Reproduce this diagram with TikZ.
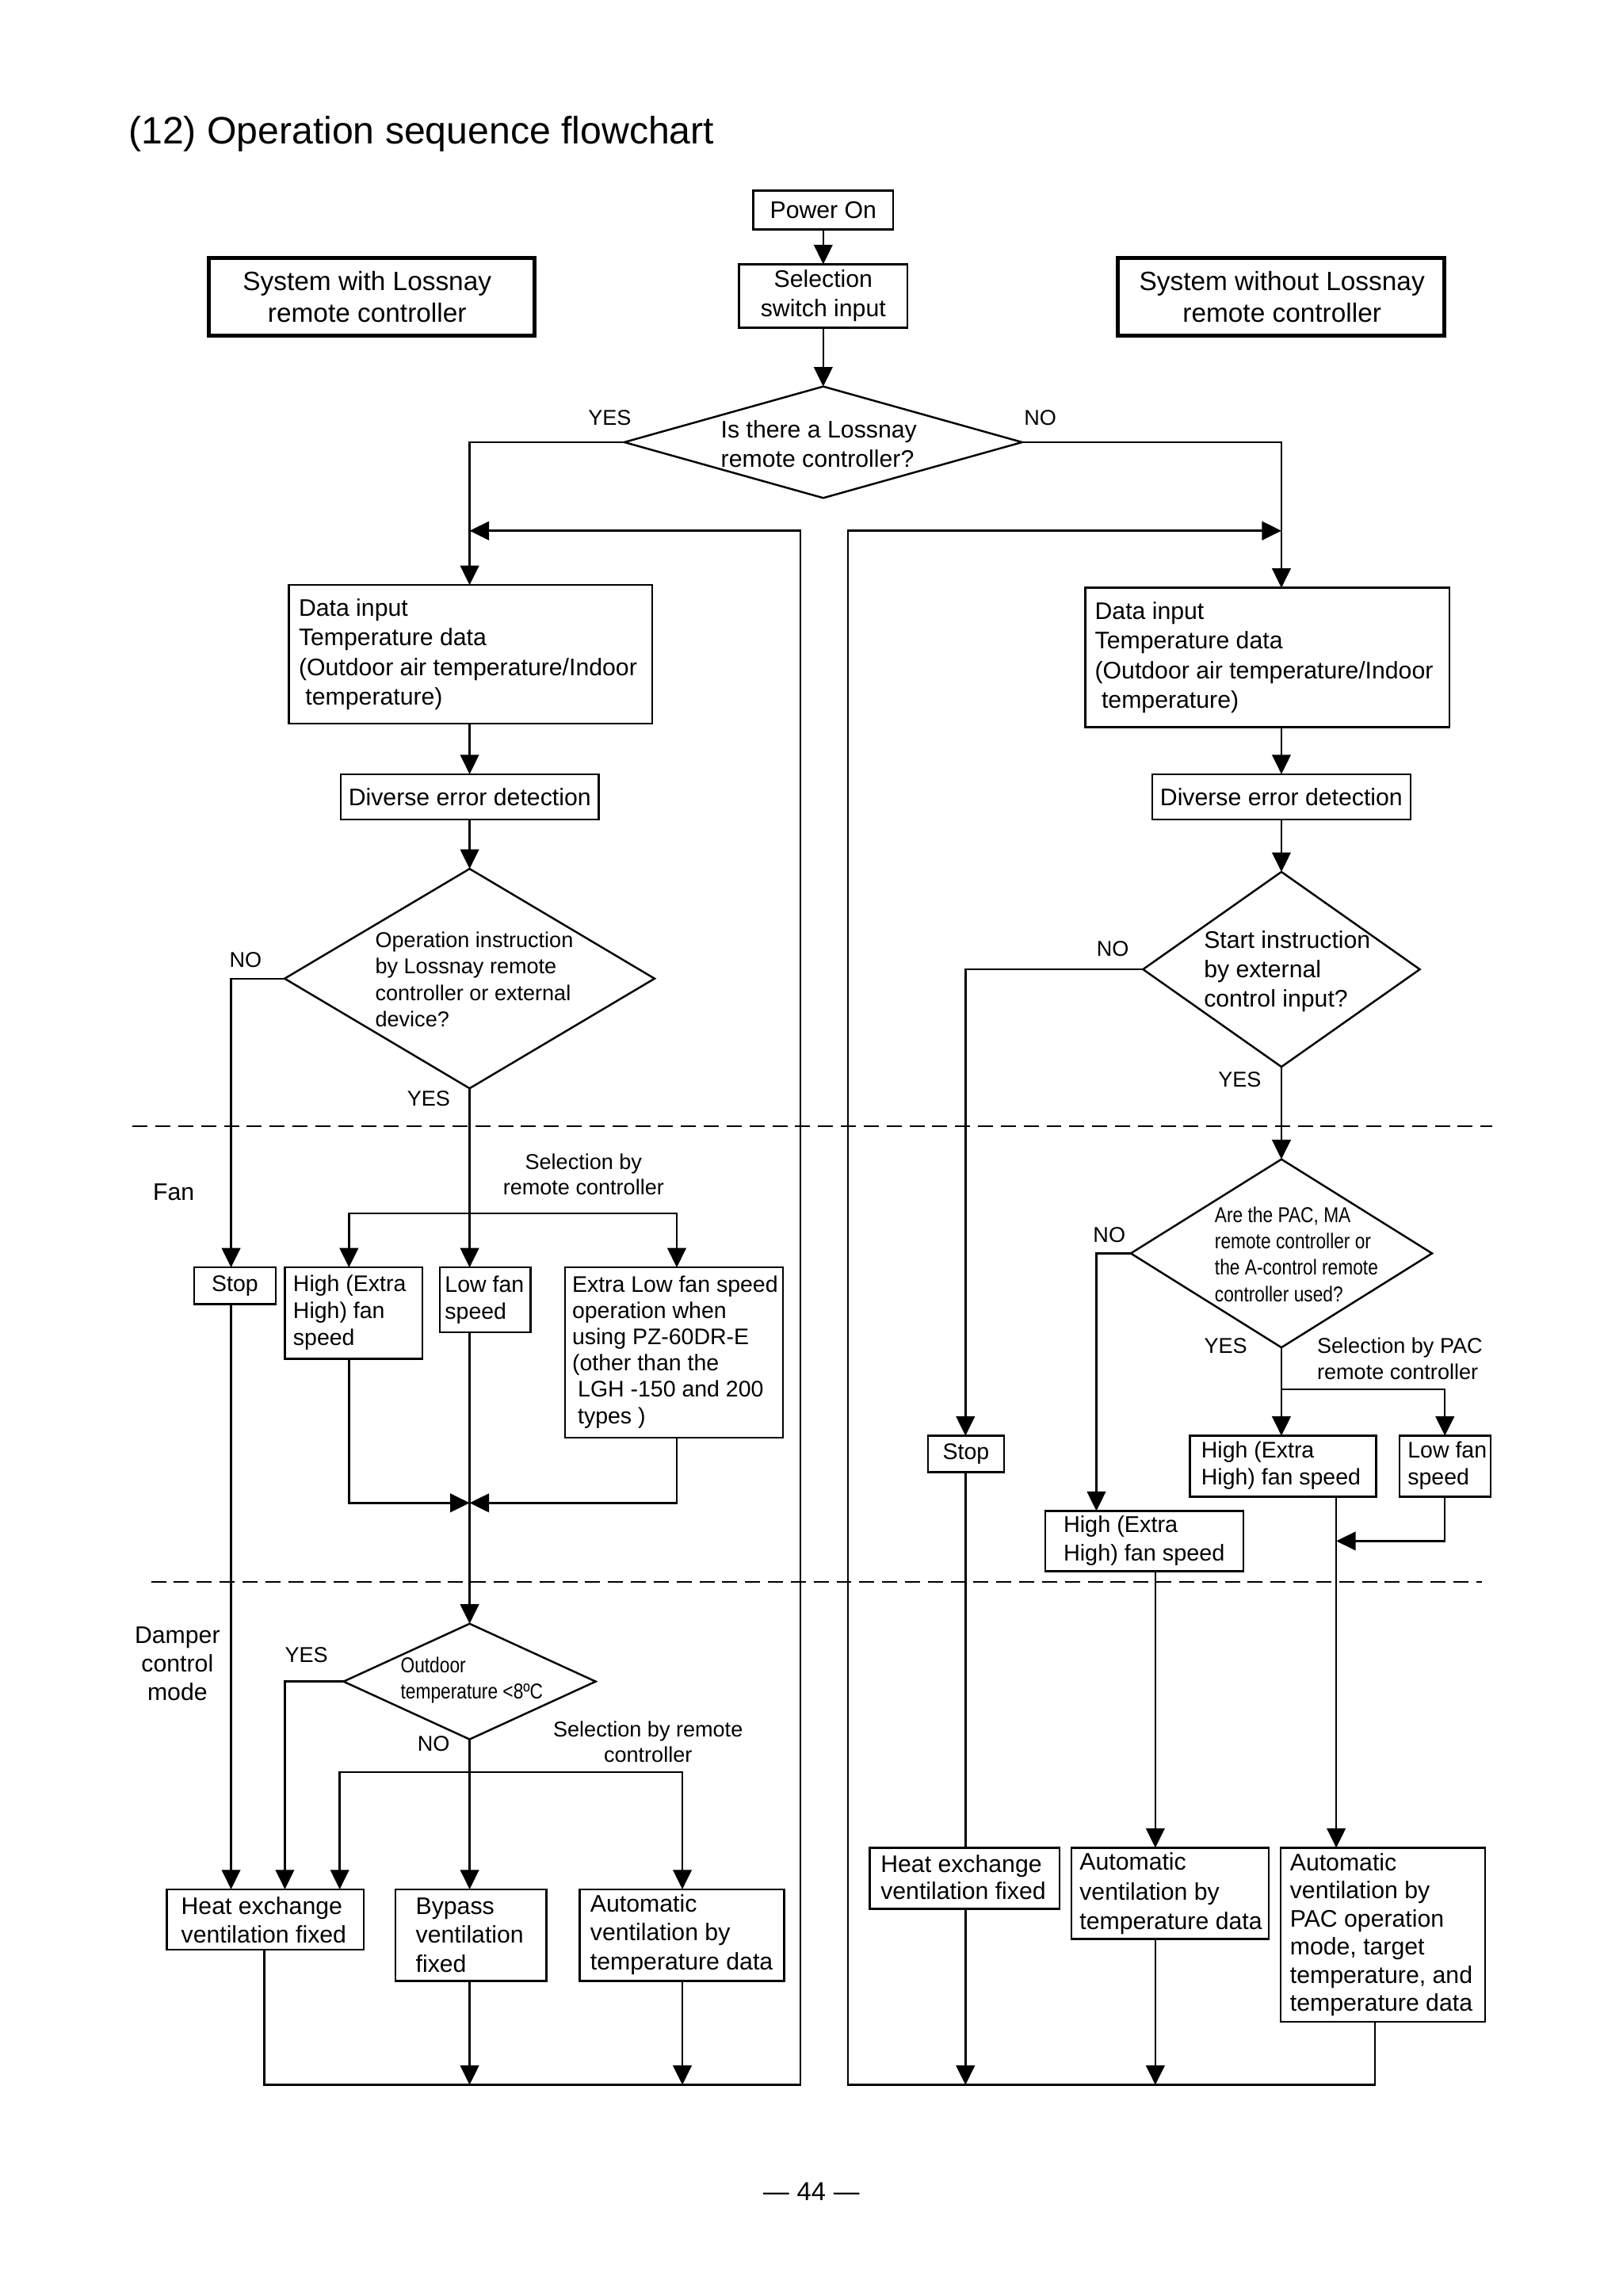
\documentclass[tikz,border=0pt]{standalone}
\usepackage{fontspec}
\setmainfont{Liberation Sans}
\newfontfamily\narrowfont[FakeStretch=0.84]{Liberation Sans}
\usetikzlibrary{arrows.meta,shapes.geometric,fit,calc}
\begin{document}
\begin{tikzpicture}[x=0.0185cm,y=-0.0185cm,
  ln/.style={line width=0.7pt},
  arr/.style={line width=0.7pt,-{Triangle[length=0.245cm,width=0.235cm]}},
  bx/.style={draw,line width=0.7pt,inner sep=0pt,outer sep=0pt},
  tbx/.style={draw,line width=1.4pt,inner sep=0pt,outer sep=0pt},
  dia/.style={draw,diamond,line width=0.7pt,inner sep=0pt,outer sep=0pt},
  tA/.style={inner sep=0pt,align=left,font=\fontsize{8.6}{10.4}\selectfont},
  tD/.style={inner sep=0pt,align=left,font=\fontsize{8.6}{10.6}\selectfont},
  tF/.style={inner sep=0pt,align=left,font=\fontsize{8.1}{9.6}\selectfont},
  lab/.style={inner sep=0pt,align=center,font=\fontsize{7.7}{9.3}\selectfont},
  tN/.style={inner sep=0pt,align=left,font=\narrowfont\fontsize{7.7}{9.45}\selectfont},
  tS/.style={inner sep=0pt,align=center,font=\fontsize{9.5}{11.4}\selectfont},
  dsh/.style={line width=0.7pt,dash pattern=on 5.4pt off 2.8pt}]
\useasboundingbox (0,0) rectangle (1106.5,1565.9);

% title
\node[inner sep=0pt,anchor=base west,font=\fontsize{13.7}{16}\selectfont] (title) at (87.3,98.2) {(12) Operation sequence flowchart};

% top
\node[bx,fit={(513.8,130.1)(609.2,156.4)}] (pwr) {};
\node[tA] (pwrT) at (pwr.center) {Power On};
\node[bx,fit={(504,180.2)(619,223.4)}] (sel) {};
\node[tA,align=center] (selT) at (sel.center) {Selection\\switch input};
\node[tbx,fit={(142.2,175.7)(364.8,228.8)}] (sysL) {};
\node[tS] (sysLT) at (250.4,202.7) {System with Lossnay\\remote controller};
\node[tbx,fit={(762.5,175.7)(985,228.8)}] (sysR) {};
\node[tS] (sysRT) at (874.4,202.7) {System without Lossnay\\remote controller};

\node[dia,minimum width=5.017cm,minimum height=1.406cm] (d1) at (561.5,301.6) {};
\node[tD] (d1T) at (558.5,302.7) {Is there a Lossnay\\remote controller?};

% left column
\node[bx,fit={(196.9,399)(444.7,493.6)}] (dinL) {};
\node[tD,anchor=west] (dinLT) at (203.4,446.3) {Data input\\Temperature data\\(Outdoor air temperature/Indoor\\\hspace{0.28em}temperature)};
\node[bx,fit={(232.5,528)(408.3,559)}] (dedL) {};
\node[tA] (dedLT) at (dedL.center) {Diverse error detection};
\node[dia,minimum width=4.666cm,minimum height=2.769cm] (d2) at (320.3,667.4) {};
\node[inner sep=0pt,align=left,font=\fontsize{7.7}{9.45}\selectfont,anchor=west] (d2T) at (255.6,668) {Operation instruction\\by Lossnay remote\\controller or external\\device?};

% right column
\node[bx,fit={(740.3,400.9)(988.6,496)}] (dinR) {};
\node[tD,anchor=west] (dinRT) at (746.4,448.4) {Data input\\Temperature data\\(Outdoor air temperature/Indoor\\\hspace{0.28em}temperature)};
\node[bx,fit={(785.9,528)(962,559)}] (dedR) {};
\node[tA] (dedRT) at (dedR.center) {Diverse error detection};
\node[dia,minimum width=3.491cm,minimum height=2.459cm] (d3) at (874,661.1) {};
\node[tD,anchor=west] (d3T) at (820.8,662.4) {Start instruction\\by external\\control input?};
\node[dia,minimum width=3.800cm,minimum height=2.374cm] (d4) at (874,854.8) {};
\node[tN,anchor=west] (d4T) at (828.2,855.4) {Are the PAC, MA\\remote controller or\\the A-control remote\\controller used?};

% fan left
\node[bx,fit={(132.5,864.4)(188,889.4)}] (stopL) {};
\node[tF] (stopLT) at (stopL.center) {Stop};
\node[bx,fit={(194.3,864.4)(288.2,926.8)}] (hiL) {};
\node[tF,anchor=west] (hiLT) at (199.6,895.2) {High (Extra\\High) fan\\speed};
\node[bx,fit={(300,864.4)(361.8,908.5)}] (loL) {};
\node[tF,anchor=west] (loLT) at (303.1,886.5) {Low fan\\speed};
\node[bx,fit={(385.5,864.4)(534,980.6)}] (xlL) {};
\node[tF,anchor=west,font=\fontsize{8.1}{9.45}\selectfont] (xlLT) at (389.9,922) {Extra Low fan speed\\operation when\\using PZ-60DR-E\\(other than the\\\hspace{0.25em}LGH -150 and 200\\\hspace{0.25em}types )};

% fan right
\node[bx,fit={(632.9,979.2)(684.8,1003.9)}] (stopR) {};
\node[tF] (stopRT) at (stopR.center) {Stop};
\node[bx,fit={(811.7,979.2)(938.6,1020.8)}] (hiRu) {};
\node[tF,anchor=west] (hiRuT) at (819,999.5) {High (Extra\\High) fan speed};
\node[bx,fit={(954.5,979.2)(1016.7,1020.8)}] (loR) {};
\node[tF,anchor=west] (loRT) at (959.8,999.5) {Low fan\\speed};
\node[bx,fit={(713,1030.5)(848,1071.7)}] (hiRl) {};
\node[tF,anchor=west,font=\fontsize{8.2}{10.2}\selectfont] (hiRlT) at (725,1050.6) {High (Extra\\High) fan speed};

% damper left
\node[dia,minimum width=3.180cm,minimum height=1.458cm] (d5) at (320.3,1146.8) {};
\node[tN,anchor=west] (d5T) at (272.9,1146) {Outdoor\\temperature <8ºC};
\node[bx,fit={(113.8,1288.5)(248,1329.7)}] (heatL) {};
\node[tA,anchor=west] (heatLT) at (123.2,1309.4) {Heat exchange\\ventilation fixed};
\node[bx,fit={(269.8,1288.5)(372.7,1350.9)}] (byp) {};
\node[tA,anchor=west] (bypT) at (283.2,1319.6) {Bypass\\ventilation\\fixed};
\node[bx,fit={(395.5,1288.5)(534.9,1350.9)}] (autL) {};
\node[tA,anchor=west] (autLT) at (402.3,1319.4) {Automatic\\ventilation by\\temperature data};

% damper right
\node[bx,fit={(593.1,1260.2)(722.6,1301.8)}] (heatR) {};
\node[tA,anchor=west,font=\fontsize{8.6}{9.8}\selectfont] (heatRT) at (600.3,1280.4) {Heat exchange\\ventilation fixed};
\node[bx,fit={(730.7,1260.2)(865.4,1322.5)}] (autR) {};
\node[tA,anchor=west,font=\fontsize{8.6}{10.6}\selectfont] (autRT) at (736,1291.4) {Automatic\\ventilation by\\temperature data};
\node[bx,fit={(873.5,1260.2)(1013,1379)}] (pacA) {};
\node[tA,anchor=west,font=\fontsize{8.6}{10.1}\selectfont] (pacAT) at (879.5,1319.4) {Automatic\\ventilation by\\PAC operation\\mode, target\\temperature, and\\temperature data};

% labels
\node[lab] (l1) at (415.9,284.7) {YES};
\node[lab] (l2) at (709.5,284.7) {NO};
\node[lab] (l3) at (167.5,654.8) {NO};
\node[lab] (l4) at (292.4,749.4) {YES};
\node[lab] (l5) at (759,647.1) {NO};
\node[lab] (l6) at (845.6,736.1) {YES};
\node[lab] (l7) at (756.6,842) {NO};
\node[lab] (l8) at (836,917.9) {YES};
\node[lab] (l9) at (209,1128.5) {YES};
\node[lab] (l10) at (295.7,1189.1) {NO};
\node[lab] (l11) at (398,801) {Selection by\\remote controller};
\node[lab,align=left,anchor=west] (l12) at (898,926.5) {Selection by PAC\\remote controller};
\node[lab] (l13) at (442,1188) {Selection by remote\\controller};
\node[tA] (fan) at (118.5,812.9) {Fan};
\node[tA,align=center,font=\fontsize{8.6}{10.2}\selectfont] (damp) at (121,1134.7) {Damper\\control\\mode};
\node[inner sep=0pt,font=\fontsize{9.3}{11}\selectfont] (pg) at (553.4,1494.6) {—\hspace{0.3em}44\hspace{0.3em}—};

% dashed separators
\draw[dsh] (90.4,768) -- (1018,768);
\draw[dsh] (103,1079) -- (1010.5,1079);

% lanes
\coordinate (xT) at (561.5,0);
\coordinate (xL) at (320.3,0);
\coordinate (xR) at (874,0);
\coordinate (xA) at (157.6,0);
\coordinate (xB) at (238,0);
\coordinate (xC) at (461.6,0);
\coordinate (xD) at (194.3,0);
\coordinate (xE) at (231.7,0);
\coordinate (xF) at (465.4,0);
\coordinate (xG) at (180.3,0);
\coordinate (xH) at (545.8,0);
\coordinate (xI) at (578.4,0);
\coordinate (xJ) at (658.5,0);
\coordinate (xK) at (747.8,0);
\coordinate (xM) at (788,0);
\coordinate (xN) at (911.4,0);
\coordinate (xO) at (985.5,0);
\coordinate (xP) at (937.8,0);
\coordinate (yLp) at (0,362);
\coordinate (yFB) at (0,827.5);
\coordinate (yFM) at (0,1025);
\coordinate (yPB) at (0,947.4);
\coordinate (yPM) at (0,1051);
\coordinate (yDB) at (0,1208.5);
\coordinate (yBt) at (0,1421.9);

% connectors top
\draw[arr] (xT |- pwr.south) -- (xT |- sel.north);
\draw[arr] (xT |- sel.south) -- (d1.north);
\draw[arr] (d1.west) -| (xL |- dinL.north);
\draw[arr] (d1.east) -| (xR |- dinR.north);

% left column
\draw[arr] (xL |- dinL.south) -- (xL |- dedL.north);
\draw[arr] (xL |- dedL.south) -- (d2.north);
\draw[arr] (d2.west) -| (xA |- stopL.north);
\draw[arr] (d2.south) -- (xL |- loL.north);
\draw[arr] (xL |- yFB) -| (xB |- hiL.north);
\draw[arr] (xL |- yFB) -| (xC |- xlL.north);
\draw[arr] (xB |- hiL.south) |- (xL |- yFM);
\draw[arr] (xC |- xlL.south) |- (xL |- yFM);
\draw[arr] (xL |- loL.south) -- (d5.north);
\draw[arr] (xA |- stopL.south) -- (xA |- heatL.north);
\draw[arr] (d5.west) -| (xD |- heatL.north);
\draw[arr] (d5.south) -- (xL |- byp.north);
\draw[arr] (xL |- yDB) -| (xE |- heatL.north);
\draw[arr] (xL |- yDB) -| (xF |- autL.north);
\draw[arr] (xL |- byp.south) -- (xL |- yBt);
\draw[arr] (xF |- autL.south) -- (xF |- yBt);
\draw[arr] (xG |- heatL.south) |- (xH |- yBt) |- (xL |- yLp);

% right column
\draw[arr] (xR |- dinR.south) -- (xR |- dedR.north);
\draw[arr] (xR |- dedR.south) -- (d3.north);
\draw[arr] (d3.west) -| (xJ |- stopR.north);
\draw[arr] (d3.south) -- (d4.north);
\draw[arr] (d4.west) -| (xK |- hiRl.north);
\draw[arr] (d4.south) -- (xR |- hiRu.north);
\draw[arr] (xR |- yPB) -| (xO |- loR.north);
\draw[arr] (xO |- loR.south) |- (xN |- yPM);
\draw[arr] (xN |- hiRu.south) -- (xN |- pacA.north);
\draw[arr] (xM |- hiRl.south) -- (xM |- autR.north);
\draw[ln] (xJ |- stopR.south) -- (xJ |- heatR.north);
\draw[arr] (xJ |- heatR.south) -- (xJ |- yBt);
\draw[arr] (xM |- autR.south) -- (xM |- yBt);
\draw[arr] (xP |- pacA.south) |- (xI |- yBt) |- (xR |- yLp);
\end{tikzpicture}
\end{document}
